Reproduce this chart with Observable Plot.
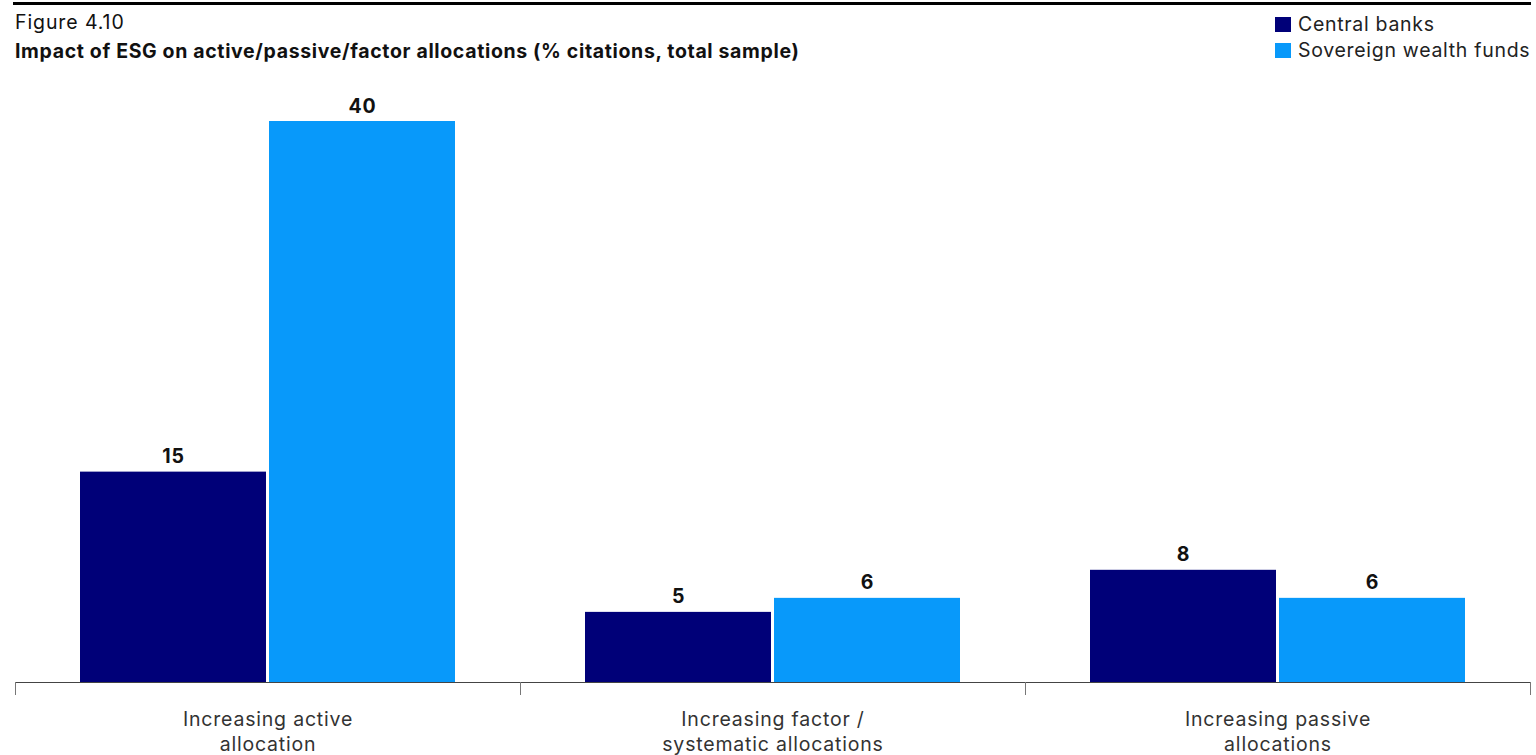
<!DOCTYPE html>
<html><head><meta charset="utf-8">
<script src="https://cdn.jsdelivr.net/npm/d3@7"></script>
<script src="https://cdn.jsdelivr.net/npm/@observablehq/plot@0.6"></script>
<style>
body{margin:0;background:#fff;font-family:Inter,"Noto Sans",sans-serif;}
#wrap{position:relative;width:1536px;height:755px;overflow:hidden;}
#topline{position:absolute;left:13px;top:2px;width:1518px;height:3px;background:#000;}
#fig{position:absolute;left:15px;top:10px;font-size:19.5px;font-weight:400;color:#111;letter-spacing:0.9px;}
#title{position:absolute;left:15px;top:39px;font-size:19.5px;font-weight:700;color:#111;letter-spacing:0.65px;}
#legend{position:absolute;left:1275px;top:11px;font-size:19.5px;color:#222;letter-spacing:0.7px;}
#legend .row{display:flex;align-items:center;height:26px;}
#legend .sw{width:16px;height:15px;margin-right:7px;}
#chart{position:absolute;left:0;top:70px;}
</style></head><body>
<div id="wrap">
 <div id="topline"></div>
 <div id="fig">Figure 4.10</div>
 <div id="title">Impact of ESG on active/passive/factor allocations (% citations, total sample)</div>
 <div id="legend"></div>
 <div id="chart"></div>
</div>
<script>
const categories = ["Increasing active allocation", "Increasing factor / systematic allocations", "Increasing passive allocations"];
const categoryLabels = ["Increasing active\nallocation", "Increasing factor /\nsystematic allocations", "Increasing passive\nallocations"];
const seriesNames = ["Central banks", "Sovereign wealth funds"];
const centralBanks = [15, 5, 8];
const sovereignWealthFunds = [40, 6, 6];
const seriesColors = ["#000078", "#0899FA"];

const data = categories.flatMap((c, i) => [
  {category: c, series: seriesNames[0], value: centralBanks[i]},
  {category: c, series: seriesNames[1], value: sovereignWealthFunds[i]}
]);

const chart = Plot.plot({
  width: 1536, height: 685,
  marginLeft: 15, marginRight: 6, marginTop: 51, marginBottom: 73,
  style: {fontFamily: "Inter, sans-serif", background: "transparent", overflow: "visible", letterSpacing: "0.8px"},
  fx: {domain: categories, padding: 0, axis: null},
  x: {domain: seriesNames, paddingInner: 0.016, paddingOuter: 0.337, axis: null},
  y: {domain: [0, 40], axis: null},
  color: {domain: seriesNames, range: seriesColors},
  marks: [
    Plot.barY(data, {fx: "category", x: "series", y: "value", fill: "series"}),
    Plot.text(data, {fx: "category", x: "series", y: "value", text: d => String(d.value), lineAnchor: "bottom", dy: -9, fontSize: 19.5, fontWeight: 700, fill: "#111"}),
    Plot.ruleY([0], {stroke: "#444", strokeWidth: 1}),
    Plot.text(categories, {fx: d => d, text: (d, i) => categoryLabels[i], frameAnchor: "bottom", lineAnchor: "middle", dy: 48, fontSize: 19.5, lineHeight: 1.28, fill: "#333"})
  ]
});
document.getElementById("chart").appendChild(chart);

// group separators below the baseline, from the fx and y scales
const fxS = chart.scale("fx");
const yS = chart.scale("y");
const y0 = yS.apply(0);
const edges = categories.map(c => fxS.apply(c));
edges.push(fxS.apply(categories[categories.length - 1]) + fxS.bandwidth);
d3.select(chart).append("g")
  .selectAll("line").data(edges).join("line")
  .attr("x1", d => Math.round(d) + 0.5).attr("x2", d => Math.round(d) + 0.5)
  .attr("y1", y0).attr("y2", y0 + 13)
  .attr("stroke", "#777").attr("stroke-width", 1);

// legend
const lg = d3.select("#legend");
seriesNames.forEach((s, i) => {
  const r = lg.append("div").attr("class", "row");
  r.append("div").attr("class", "sw").style("background", seriesColors[i]);
  r.append("span").text(s);
});
</script>
</body></html>
